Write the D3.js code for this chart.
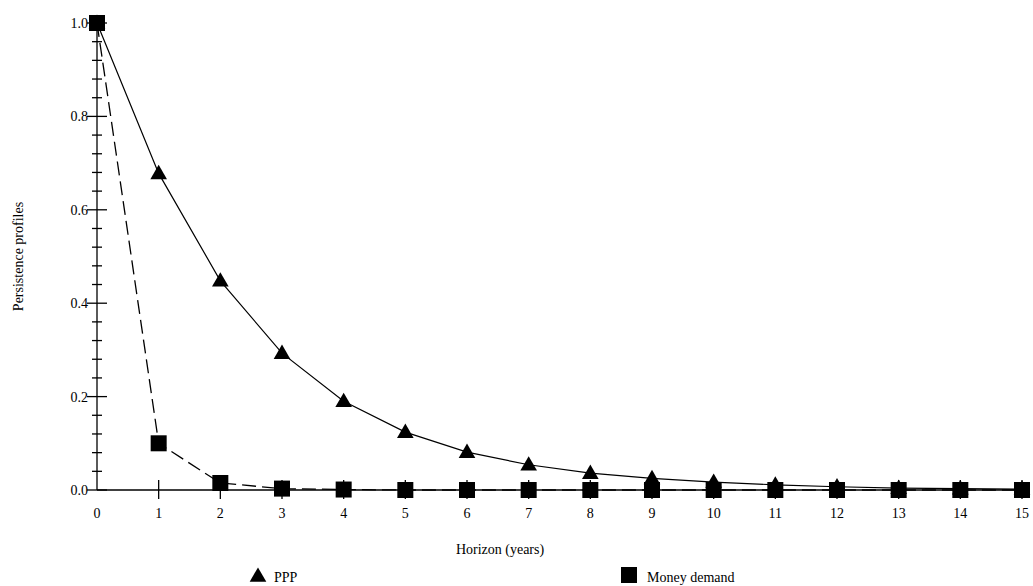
<!DOCTYPE html>
<html>
<head>
<meta charset="utf-8">
<script src="https://cdn.jsdelivr.net/npm/d3@7"></script>
<style>
  body { margin: 0; background: #fff; }
  text { font-family: "Liberation Serif", "DejaVu Serif", serif; fill: #000; }
</style>
</head>
<body>
<div class="chart"></div>
<script>
const horizons = d3.range(0, 16);
const pppValues = [1.0, 0.678, 0.448, 0.293, 0.19, 0.124, 0.081, 0.054, 0.036, 0.025, 0.017, 0.011, 0.007, 0.004, 0.003, 0.002];
const moneyValues = [1.0, 0.10, 0.015, 0.003, 0.001, 0, 0, 0, 0, 0, 0, 0, 0, 0, 0, 0];
const yMajorTicks = [0, 0.2, 0.4, 0.6, 0.8, 1.0];
const seriesNames = ['PPP', 'Money demand'];

const width = 1033;
const height = 586;
const margin = { top: 23, right: 11, bottom: 96, left: 97 };

const svg = d3.select('.chart')
  .append('svg')
  .attr('width', width)
  .attr('height', height);

const x = d3.scaleLinear([0, 15], [margin.left, width - margin.right]);
const y = d3.scaleLinear([0, 1], [height - margin.bottom, margin.top]);

// minor y ticks every 0.04
const yMinor = d3.range(0, 1.0001, 0.04).filter((v) => !yMajorTicks.some((t) => Math.abs(t - v) < 1e-6));

const axisG = svg.append('g').attr('stroke', '#000').attr('stroke-width', 1.3);
axisG.append('line')
  .attr('x1', x(0)).attr('x2', x(0))
  .attr('y1', y(0)).attr('y2', y(1));
axisG.append('line')
  .attr('x1', x(0)).attr('x2', x(15))
  .attr('y1', y(0)).attr('y2', y(0));
axisG.selectAll('line.ymaj').data(yMajorTicks).join('line')
  .attr('class', 'ymaj')
  .attr('x1', x(0) - 10).attr('x2', x(0) + 10)
  .attr('y1', (d) => y(d)).attr('y2', (d) => y(d));
axisG.selectAll('line.ymin').data(yMinor).join('line')
  .attr('class', 'ymin')
  .attr('x1', x(0) - 5).attr('x2', x(0) + 5)
  .attr('y1', (d) => y(d)).attr('y2', (d) => y(d));
axisG.selectAll('line.xt').data(horizons.slice(1)).join('line')
  .attr('class', 'xt')
  .attr('x1', (d) => x(d)).attr('x2', (d) => x(d))
  .attr('y1', y(0) - 10).attr('y2', y(0) + 9);

svg.append('g')
  .style('font-size', '14px')
  .attr('text-anchor', 'end')
  .selectAll('text').data(yMajorTicks).join('text')
  .attr('x', x(0) - 9)
  .attr('y', (d) => y(d))
  .attr('dy', '0.35em')
  .text((d) => d3.format('.1f')(d));

svg.append('g')
  .style('font-size', '14px')
  .attr('text-anchor', 'middle')
  .selectAll('text').data(horizons).join('text')
  .attr('x', (d) => x(d))
  .attr('y', y(0) + 28)
  .text((d) => d);

svg.append('text')
  .style('font-size', '14px')
  .attr('text-anchor', 'middle')
  .attr('transform', `translate(23,${(y(0) + y(1)) / 2}) rotate(-90)`)
  .text('Persistence profiles');

svg.append('text')
  .style('font-size', '14px')
  .attr('text-anchor', 'middle')
  .attr('x', 500)
  .attr('y', 554)
  .text('Horizon (years)');

const line = d3.line()
  .x((d, i) => x(horizons[i]))
  .y((d) => y(d));

svg.append('path')
  .datum(pppValues)
  .attr('fill', 'none')
  .attr('stroke', '#000')
  .attr('stroke-width', 1.2)
  .attr('d', line);

svg.append('path')
  .datum(moneyValues)
  .attr('fill', 'none')
  .attr('stroke', '#000')
  .attr('stroke-width', 1.3)
  .attr('stroke-dasharray', '14,6')
  .attr('d', line);

const triangle = d3.symbol().type(d3.symbolTriangle).size(120);

svg.append('g')
  .selectAll('path').data(pppValues).join('path')
  .attr('d', triangle)
  .attr('fill', '#000')
  .attr('transform', (d, i) => `translate(${x(horizons[i])},${y(d) + 1})`);

svg.append('g')
  .selectAll('rect').data(moneyValues).join('rect')
  .attr('fill', '#000')
  .attr('x', (d, i) => x(horizons[i]) - 8)
  .attr('y', (d) => y(d) - 8)
  .attr('width', 16)
  .attr('height', 16);

// legend
const legend = svg.append('g').style('font-size', '14px');
legend.append('path')
  .attr('d', triangle)
  .attr('fill', '#000')
  .attr('transform', 'translate(258,577)');
legend.append('text').attr('x', 274).attr('y', 582).text(seriesNames[0]);
legend.append('rect')
  .attr('x', 621).attr('y', 567).attr('width', 16).attr('height', 16)
  .attr('fill', '#000');
legend.append('text').attr('x', 647).attr('y', 582).text(seriesNames[1]);
</script>
</body>
</html>
